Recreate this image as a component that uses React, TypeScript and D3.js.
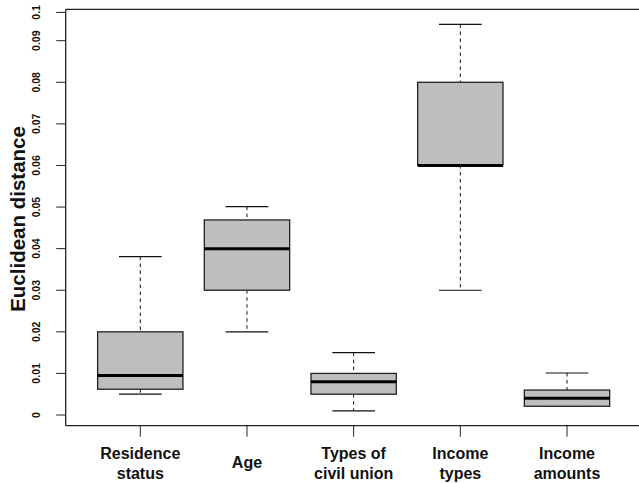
import React from "react";
import * as d3 from "d3";

const categories: string[][] = [
  ["Residence", "status"],
  ["Age"],
  ["Types of", "civil union"],
  ["Income", "types"],
  ["Income", "amounts"],
];
const lowerWhisker = [0.005, 0.02, 0.001, 0.03, 0.0021];
const q1 = [0.0062, 0.03, 0.005, 0.0601, 0.0021];
const medians = [0.0095, 0.04, 0.008, 0.06, 0.004];
const q3 = [0.02, 0.0469, 0.01, 0.08, 0.006];
const upperWhisker = [0.0381, 0.0501, 0.015, 0.0939, 0.0101];

const yTickValues = [0, 0.01, 0.02, 0.03, 0.04, 0.05, 0.06, 0.07, 0.08, 0.09, 0.0968];
const yTickLabels = ["0", "0.01", "0.02", "0.03", "0.04", "0.05", "0.06", "0.07", "0.08", "0.09", "0.1"];

const W = 639;
const H = 483;
const FONT = "'Liberation Sans', Arial, Helvetica, sans-serif";

export default function App() {
  const y = d3.scaleLinear().domain([0, 0.1]).range([415, -0.9]);
  const x = d3.scaleLinear().domain([1, 5]).range([140.3, 567]);
  const step = x(2) - x(1);
  const boxW = step * 0.8;
  const capW = boxW / 2;
  const left = 65.7;
  const top = 9.3;
  const bottom = 425.7;

  return (
    <svg
      width={W}
      height={H}
      style={{ position: "absolute", left: 0, top: 0, background: "#fff" }}
      fontFamily={FONT}
    >
      {/* frame */}
      <line x1={left} x2={W + 5} y1={top} y2={top} stroke="#222" strokeWidth={1.3} />
      <line x1={left} x2={W + 5} y1={bottom} y2={bottom} stroke="#222" strokeWidth={1.3} />
      <line x1={left} x2={left} y1={top} y2={bottom} stroke="#222" strokeWidth={1.3} />

      {/* y axis ticks */}
      {yTickValues.map((v, i) => (
        <g key={"yt" + i}>
          <line x1={left - 9.5} x2={left} y1={y(v)} y2={y(v)} stroke="#222" strokeWidth={1} />
          <text
            transform={`translate(${40},${y(v)}) rotate(-90)`}
            textAnchor="middle"
            fontSize={10.5}
            fontWeight="bold"
            fill="#111"
          >
            {yTickLabels[i]}
          </text>
        </g>
      ))}
      <text
        transform={`translate(${25},${219}) rotate(-90)`}
        textAnchor="middle"
        fontSize={20.5}
        fontWeight="bold"
        fill="#111"
      >
        Euclidean distance
      </text>

      {/* x axis ticks and labels */}
      {categories.map((lines, i) => {
        const cx = x(i + 1);
        return (
          <g key={"xt" + i}>
            <line x1={cx} x2={cx} y1={bottom} y2={436.7} stroke="#222" strokeWidth={1} />
            {lines.length === 1 ? (
              <text x={cx} y={468} textAnchor="middle" fontSize={16} fontWeight="bold" fill="#111">
                {lines[0]}
              </text>
            ) : (
              lines.map((t, j) => (
                <text
                  key={j}
                  x={cx}
                  y={458.5 + j * 20}
                  textAnchor="middle"
                  fontSize={16}
                  fontWeight="bold"
                  fill="#111"
                >
                  {t}
                </text>
              ))
            )}
          </g>
        );
      })}

      {/* boxes */}
      {categories.map((_, i) => {
        const cx = x(i + 1);
        return (
          <g key={"b" + i}>
            <line
              x1={cx}
              x2={cx}
              y1={y(upperWhisker[i])}
              y2={y(q3[i])}
              stroke="#111"
              strokeWidth={1}
              strokeDasharray="3.5,3.5"
            />
            <line
              x1={cx}
              x2={cx}
              y1={y(q1[i])}
              y2={y(lowerWhisker[i])}
              stroke="#111"
              strokeWidth={1}
              strokeDasharray="3.5,3.5"
            />
            <line
              x1={cx - capW / 2}
              x2={cx + capW / 2}
              y1={y(upperWhisker[i])}
              y2={y(upperWhisker[i])}
              stroke="#111"
              strokeWidth={1.2}
            />
            <line
              x1={cx - capW / 2}
              x2={cx + capW / 2}
              y1={y(lowerWhisker[i])}
              y2={y(lowerWhisker[i])}
              stroke="#111"
              strokeWidth={1.2}
            />
            <rect
              x={cx - boxW / 2}
              y={y(q3[i])}
              width={boxW}
              height={y(q1[i]) - y(q3[i])}
              fill="#bebebe"
              stroke="#222"
              strokeWidth={1.3}
            />
            <line
              x1={cx - boxW / 2}
              x2={cx + boxW / 2}
              y1={y(medians[i])}
              y2={y(medians[i])}
              stroke="#000"
              strokeWidth={3}
            />
          </g>
        );
      })}
    </svg>
  );
}
